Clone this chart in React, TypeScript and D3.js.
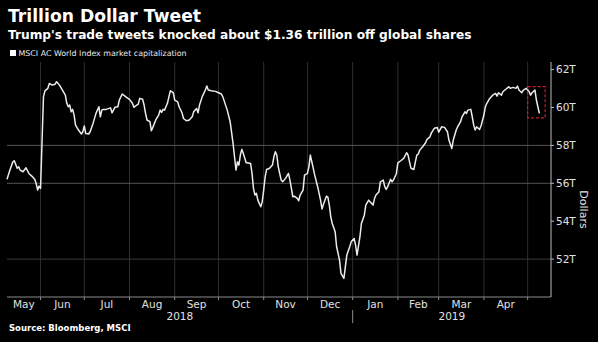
import React from "react";
import * as d3 from "d3";

const dates: string[] = [
  "2018-05-09","2018-05-11","2018-05-13","2018-05-14","2018-05-16","2018-05-17","2018-05-18","2018-05-20","2018-05-22","2018-05-24",
  "2018-05-26","2018-05-28","2018-05-29","2018-05-30","2018-05-31","2018-06-01","2018-06-03","2018-06-04","2018-06-06","2018-06-07",
  "2018-06-09","2018-06-11","2018-06-12","2018-06-14","2018-06-16","2018-06-18","2018-06-19","2018-06-20","2018-06-21","2018-06-22",
  "2018-06-23","2018-06-24","2018-06-25","2018-06-27","2018-06-29","2018-06-30","2018-07-01","2018-07-02","2018-07-04","2018-07-05",
  "2018-07-07","2018-07-09","2018-07-11","2018-07-12","2018-07-13","2018-07-14","2018-07-16","2018-07-19","2018-07-20","2018-07-22",
  "2018-07-24","2018-07-25","2018-07-27","2018-07-28","2018-07-30","2018-08-01","2018-08-03","2018-08-04","2018-08-06","2018-08-07",
  "2018-08-08","2018-08-10","2018-08-11","2018-08-12","2018-08-13","2018-08-15","2018-08-16","2018-08-17","2018-08-19","2018-08-21",
  "2018-08-22","2018-08-23","2018-08-24","2018-08-25","2018-08-27","2018-08-28","2018-08-29","2018-08-31","2018-09-01","2018-09-03",
  "2018-09-04","2018-09-06","2018-09-07","2018-09-09","2018-09-11","2018-09-13","2018-09-14","2018-09-16","2018-09-17","2018-09-18",
  "2018-09-20","2018-09-22","2018-09-23","2018-09-24","2018-09-26","2018-09-29","2018-10-01","2018-10-03","2018-10-04","2018-10-07",
  "2018-10-09","2018-10-11","2018-10-12","2018-10-13","2018-10-14","2018-10-15","2018-10-16","2018-10-17","2018-10-18","2018-10-20",
  "2018-10-21","2018-10-23","2018-10-24","2018-10-25","2018-10-26","2018-10-27","2018-10-28","2018-10-30","2018-10-31","2018-11-01",
  "2018-11-02","2018-11-03","2018-11-05","2018-11-07","2018-11-08","2018-11-09","2018-11-10","2018-11-11","2018-11-13","2018-11-14",
  "2018-11-16","2018-11-18","2018-11-19","2018-11-21","2018-11-22","2018-11-24","2018-11-25","2018-11-26","2018-11-28","2018-11-29",
  "2018-12-01","2018-12-02","2018-12-03","2018-12-05","2018-12-06","2018-12-08","2018-12-10","2018-12-11","2018-12-12","2018-12-14",
  "2018-12-15","2018-12-16","2018-12-17","2018-12-18","2018-12-20","2018-12-21","2018-12-23","2018-12-24","2018-12-26","2018-12-27",
  "2018-12-28","2018-12-30","2018-12-31","2019-01-02","2019-01-03","2019-01-04","2019-01-06","2019-01-07","2019-01-09","2019-01-10",
  "2019-01-12","2019-01-13","2019-01-15","2019-01-16","2019-01-17","2019-01-19","2019-01-20","2019-01-22","2019-01-23","2019-01-24",
  "2019-01-25","2019-01-27","2019-01-28","2019-01-29","2019-01-31","2019-02-01","2019-02-03","2019-02-05","2019-02-07","2019-02-08",
  "2019-02-09","2019-02-10","2019-02-12","2019-02-13","2019-02-14","2019-02-15","2019-02-16","2019-02-18","2019-02-20","2019-02-21",
  "2019-02-23","2019-02-24","2019-02-26","2019-02-28","2019-03-01","2019-03-03","2019-03-05","2019-03-07","2019-03-08","2019-03-10",
  "2019-03-11","2019-03-13","2019-03-14","2019-03-16","2019-03-17","2019-03-19","2019-03-20","2019-03-21","2019-03-23","2019-03-24",
  "2019-03-25","2019-03-26","2019-03-27","2019-03-29","2019-03-30","2019-04-01","2019-04-02","2019-04-03","2019-04-05","2019-04-07",
  "2019-04-09","2019-04-10","2019-04-11","2019-04-13","2019-04-14","2019-04-16","2019-04-18","2019-04-19","2019-04-21","2019-04-23",
  "2019-04-24","2019-04-25","2019-04-27","2019-04-28","2019-04-30","2019-05-02","2019-05-03","2019-05-04","2019-05-06","2019-05-07",
  "2019-05-08","2019-05-09",
];

const marketCap: number[] = [
  56.21,56.70,57.13,57.19,56.79,56.87,56.70,56.61,56.82,56.52,
  56.38,56.21,55.99,55.64,55.85,55.73,60.56,60.88,61.01,61.27,
  61.18,61.23,61.36,61.18,60.92,60.65,60.22,60.04,60.13,59.77,
  59.90,59.60,59.07,58.81,58.60,58.72,59.02,58.63,58.60,58.72,
  59.16,59.69,60.04,59.51,59.86,59.90,59.90,59.98,59.72,60.01,
  60.04,60.39,60.71,60.65,60.53,60.43,60.22,60.01,60.13,60.18,
  60.48,60.43,60.13,59.69,59.34,59.25,58.77,58.95,59.34,59.60,
  59.86,59.74,59.90,59.86,60.22,60.56,60.88,60.78,60.39,60.30,
  60.04,59.72,59.42,59.30,59.34,59.51,59.77,59.95,59.72,60.13,
  60.60,60.92,61.13,60.92,60.88,60.85,60.78,60.71,60.56,59.86,
  59.25,58.11,57.40,56.70,57.13,56.96,57.49,57.79,57.58,57.08,
  57.08,57.05,56.52,55.73,55.38,55.47,55.11,54.76,55.02,55.64,
  56.34,56.73,56.79,56.96,57.40,57.66,57.49,56.87,56.17,56.08,
  56.26,56.52,56.17,55.29,55.32,55.20,55.08,55.38,55.64,56.43,
  56.52,56.87,57.49,56.79,56.43,55.82,55.11,54.64,54.90,55.32,
  55.27,54.85,54.23,53.88,53.44,52.65,51.95,51.25,50.98,51.59,
  52.21,52.65,52.91,53.09,52.74,52.21,53.18,53.88,54.32,54.85,
  55.11,55.02,54.85,55.20,55.38,55.55,56.08,56.17,55.82,55.68,
  55.82,56.21,56.08,56.17,56.52,57.08,57.19,57.31,57.61,57.49,
  57.13,56.79,56.73,57.13,57.49,57.54,57.75,57.93,58.14,58.32,
  58.45,58.66,58.90,58.94,58.70,58.98,58.95,58.72,58.28,57.84,
  58.28,58.81,58.98,59.25,59.51,59.77,59.69,59.86,59.90,59.51,
  59.07,58.81,58.98,58.84,59.02,59.60,60.04,60.22,60.48,60.65,
  60.74,60.60,60.78,60.65,60.83,60.96,61.09,61.01,61.06,61.01,
  61.13,60.92,60.78,60.92,61.01,60.83,60.65,60.78,60.92,60.39,
  60.04,59.69,
];

const yTicks: number[] = [52, 54, 56, 58, 60, 62];
const yTickLabels: string[] = ["52T", "54T", "56T", "58T", "60T", "62T"];
const yGridValues: number[] = [52, 56, 58];
const monthLabels: string[] = ["May","Jun","Jul","Aug","Sep","Oct","Nov","Dec","Jan","Feb","Mar","Apr"];
const monthStarts: string[] = [
  "2018-05-01","2018-06-01","2018-07-01","2018-08-01","2018-09-01","2018-10-01","2018-11-01",
  "2018-12-01","2019-01-01","2019-02-01","2019-03-01","2019-04-01","2019-05-01","2019-06-01",
];
const years: string[] = ["2018", "2019"];
const highlightDates: string[] = ["2019-05-01", "2019-05-13"];
const highlightValues: number[] = [59.45, 61.1];

const title = "Trillion Dollar Tweet";
const subtitle = "Trump's trade tweets knocked about $1.36 trillion off global shares";
const legendText = "MSCI AC World Index market capitalization";
const sourceText = "Source: Bloomberg, MSCI";
const axisTitle = "Dollars";

const W = 598, H = 342;
const plot = { left: 7, right: 551, top: 62, bottom: 297 };
const FONT = "'DejaVu Sans', sans-serif";

export default function App() {
  const parse = d3.timeParse("%Y-%m-%d");
  const domainStart = parse("2018-05-09")!;
  const domainEnd = parse("2019-05-17")!;
  const x = d3.scaleTime().domain([domainStart, domainEnd]).range([plot.left, plot.right]);
  const y = d3.scaleLinear().domain([50, 62.4]).range([plot.bottom, plot.top]);

  const pts = dates.map((d, i) => ({ date: parse(d)!, v: marketCap[i] }));
  const line = d3.line<{ date: Date; v: number }>().x((d) => x(d.date)).y((d) => y(d.v)).curve(d3.curveLinear);

  const ms = monthStarts.map((m) => parse(m)!);
  const clampX = (v: number) => Math.max(plot.left, Math.min(plot.right, v));
  const monthCenters = monthLabels.map((_, i) => (clampX(x(ms[i])) + clampX(x(ms[i + 1]))) / 2);
  const boundaryTicks = ms.slice(1, 13).map((m) => x(m));
  const yearStart = x(parse("2019-01-01")!);
  const yearCenters = [(plot.left + yearStart) / 2, (yearStart + plot.right) / 2];

  const hx0 = x(parse(highlightDates[0])!);
  const hx1 = x(parse(highlightDates[1])!);
  const hy0 = y(highlightValues[1]);
  const hy1 = y(highlightValues[0]);

  return (
    <svg width={W} height={H} style={{ position: "absolute", left: 0, top: 0, display: "block" }} fontFamily={FONT}>
      <rect x={0} y={0} width={W} height={H} fill="#000" />
      <text x={8} y={22} fill="#fff" fontSize={17.2} fontWeight="bold">{title}</text>
      <text x={8} y={38.5} fill="#fff" fontSize={12.2} fontWeight="bold">{subtitle}</text>
      <rect x={10} y={50} width={6} height={6} fill="#fff" />
      <text x={18.5} y={56} fill="#e8e8e8" fontSize={7.9}>{legendText}</text>

      {boundaryTicks.map((bx, i) => (
        <line key={"vg" + i} x1={bx} x2={bx} y1={plot.top} y2={plot.bottom} stroke="#2e2e2e" strokeWidth={1} />
      ))}
      {yGridValues.map((v, i) => (
        <line key={"hg" + i} x1={plot.left} x2={plot.right} y1={y(v)} y2={y(v)} stroke={v === 52 ? "#3a3a3a" : "#555"} strokeWidth={1} />
      ))}

      <line x1={plot.left} x2={plot.right} y1={plot.bottom} y2={plot.bottom} stroke="#8a8a8a" strokeWidth={1} />
      {boundaryTicks.map((bx, i) => (
        <line key={"xt" + i} x1={bx} x2={bx} y1={plot.bottom} y2={plot.bottom + 3} stroke="#8a8a8a" strokeWidth={1} />
      ))}
      <line x1={plot.right} x2={plot.right} y1={plot.top} y2={plot.bottom} stroke="#bbb" strokeWidth={1} />
      {yTicks.map((v, i) => (
        <g key={"yt" + i}>
          <line x1={plot.right} x2={plot.right + 3} y1={y(v)} y2={y(v)} stroke="#bbb" strokeWidth={1} />
          <text x={plot.right + 5} y={y(v) + 3.8} fill="#e0e0e0" fontSize={10.5}>{yTickLabels[i]}</text>
        </g>
      ))}
      <text transform={`translate(580, ${(plot.top + plot.bottom) / 2 + 30}) rotate(90)`} textAnchor="middle" fill="#e0e0e0" fontSize={11}>{axisTitle}</text>

      {monthLabels.map((m, i) => (
        <text key={"ml" + i} x={monthCenters[i]} y={308} textAnchor="middle" fill="#e0e0e0" fontSize={10.5}>{m}</text>
      ))}
      <line x1={yearStart} x2={yearStart} y1={310} y2={323} stroke="#8a8a8a" strokeWidth={1} />
      {years.map((yr, i) => (
        <text key={"yr" + i} x={yearCenters[i]} y={320} textAnchor="middle" fill="#e0e0e0" fontSize={10.5}>{yr}</text>
      ))}

      <path d={line(pts) || ""} fill="none" stroke="#ececec" strokeWidth={1.5} strokeLinejoin="round" />

      <rect x={hx0} y={hy0} width={hx1 - hx0} height={hy1 - hy0} fill="none" stroke="#c8202e" strokeWidth={1.2} strokeDasharray="3,2" />

      <text x={9} y={331} fill="#fff" fontSize={8.5} fontWeight="bold">{sourceText}</text>
    </svg>
  );
}
